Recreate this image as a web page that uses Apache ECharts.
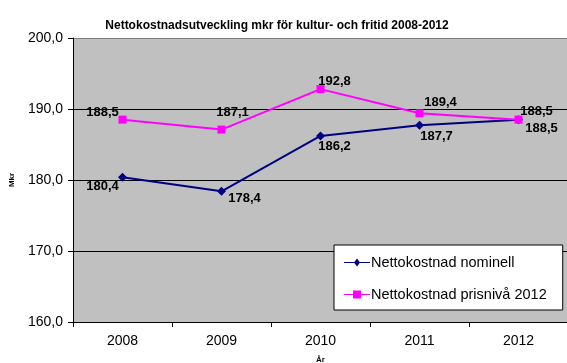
<!DOCTYPE html>
<html>
<head>
<meta charset="utf-8">
<script src="https://cdn.jsdelivr.net/npm/echarts@6/dist/echarts.min.js"></script>
<style>
html,body{margin:0;padding:0;background:#fff;}
#chart{width:567px;height:363px;}
</style>
</head>
<body>
<div id="chart"></div>
<script>
const years = ['2008', '2009', '2010', '2011', '2012'];
const nominell = [180.4, 178.4, 186.2, 187.7, 188.5];
const prisniva = [188.5, 187.1, 192.8, 189.4, 188.5];
const yTicks = [160, 170, 180, 190, 200];

const fmt = v => v.toFixed(1).replace('.', ',');
const FONT = 'Liberation Sans, Arial, sans-serif';

// label centre offsets from each point, per series
const nomOffsets = [[-20, 9], [23, 7], [14, 10], [17, 11], [23, 9]];
const prisOffsets = [[-20, -7], [11, -17], [14, -8], [21, -11], [18, -8]];

const labelBase = {
  show: true,
  position: 'inside',
  fontFamily: FONT,
  fontWeight: 'bold',
  fontSize: 13,
  color: '#000',
  formatter: p => fmt(p.value)
};

const chart = echarts.init(document.getElementById('chart'));
chart.setOption({
  animation: false,
  title: {
    text: 'Nettokostnadsutveckling mkr för kultur- och fritid 2008-2012',
    left: 272, top: 15, textAlign: 'center',
    textStyle: { fontFamily: FONT, fontWeight: 'bold', fontSize: 12, color: '#000' }
  },
  grid: {
    left: 73, right: -1, top: 38, bottom: 41,
    outerBoundsMode: 'none', containLabel: false,
    show: true, backgroundColor: '#C0C0C0', borderWidth: 0
  },
  legend: {
    orient: 'vertical',
    left: 334, top: 245,
    width: 228,
    backgroundColor: '#fff',
    borderColor: '#000', borderWidth: 1,
    borderRadius: 0,
    padding: [10, 16, 8, 10],
    itemGap: 17,
    itemWidth: 26, itemHeight: 8,
    textStyle: { fontFamily: FONT, fontSize: 14.5, color: '#000', padding: [0, 0, 0, -4] },
    data: [
      { name: 'Nettokostnad nominell', icon: 'path://M0,3.5 L26,3.5 L26,4.5 L0,4.5 Z M13,0 L16,4 L13,8 L10,4 Z' },
      { name: 'Nettokostnad prisnivå 2012', icon: 'path://M0,3.5 L26,3.5 L26,4.5 L0,4.5 Z M9,0 L17,0 L17,8 L9,8 Z' }
    ]
  },
  xAxis: {
    type: 'category',
    data: years,
    name: 'År',
    nameLocation: 'middle',
    nameGap: 34,
    nameTextStyle: { fontFamily: FONT, fontWeight: 'bold', fontSize: 8, color: '#000' },
    axisLine: { lineStyle: { color: '#000', width: 1 } },
    axisTick: { show: true, length: 5, lineStyle: { color: '#000' } },
    axisLabel: { fontFamily: FONT, fontSize: 14, color: '#000', margin: 12 },
    splitLine: { show: false }
  },
  yAxis: {
    type: 'value',
    min: yTicks[0], max: yTicks[yTicks.length - 1], interval: 10,
    name: 'Mkr',
    nameLocation: 'middle',
    nameGap: 57,
    nameRotate: 90,
    nameTextStyle: { fontFamily: FONT, fontWeight: 'bold', fontSize: 8, color: '#000' },
    axisLine: { show: true, lineStyle: { color: '#000', width: 1 } },
    axisTick: { show: true, length: 5, lineStyle: { color: '#000' } },
    axisLabel: { fontFamily: FONT, fontSize: 14, color: '#000', margin: 10, formatter: v => fmt(v) },
    // gridlines black, top border of the plot area grey
    splitLine: { show: true, lineStyle: { color: ['#000', '#000', '#000', '#000', '#808080'], width: 1 } }
  },
  series: [
    {
      name: 'Nettokostnad nominell',
      type: 'line',
      data: nominell.map((v, i) => ({ value: v, label: Object.assign({}, labelBase, { offset: nomOffsets[i] }) })),
      symbol: 'diamond',
      symbolSize: 9,
      lineStyle: { color: '#000080', width: 2 },
      itemStyle: { color: '#000080' },
      label: labelBase,
      z: 3
    },
    {
      name: 'Nettokostnad prisnivå 2012',
      type: 'line',
      data: prisniva.map((v, i) => ({ value: v, label: Object.assign({}, labelBase, { offset: prisOffsets[i] }) })),
      symbol: 'rect',
      symbolSize: 8,
      lineStyle: { color: '#FF00FF', width: 2 },
      itemStyle: { color: '#FF00FF' },
      label: labelBase,
      z: 4
    }
  ]
});
</script>
</body>
</html>
